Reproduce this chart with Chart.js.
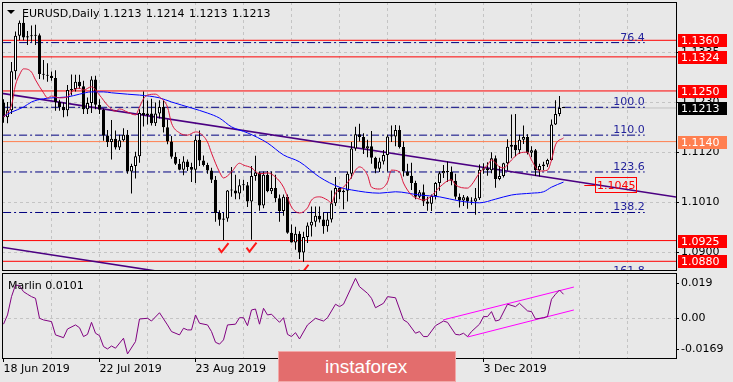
<!DOCTYPE html>
<html><head><meta charset="utf-8">
<script src="https://cdn.jsdelivr.net/npm/chart.js@4.4.1/dist/chart.umd.min.js"></script>
<style>
html,body{margin:0;padding:0;background:#e8e8e8;width:733px;height:382px;overflow:hidden;}
#wrap{position:relative;width:733px;height:382px;}
canvas{position:absolute;left:0;}
#c1{top:0;}
#c2{top:272px;}
#wm{position:absolute;left:278px;top:351px;width:178px;height:31px;background:#e36d6d;border:1px solid #f2a8a8;box-sizing:border-box;color:#fff;font:19px "Liberation Sans",Arial,sans-serif;line-height:19px;}
#wm span{position:absolute;left:46px;top:5px;}
</style></head><body>
<div id="wrap">
<canvas id="c1" width="733" height="272"></canvas>
<canvas id="c2" width="733" height="110"></canvas>
<div id="wm"><span>instaforex</span></div>
</div>
<script>
// ---------- categories (daily bars) ----------
const days = [
'18 Jun','19 Jun','20 Jun','21 Jun','24 Jun','25 Jun','26 Jun','27 Jun','28 Jun',
'1 Jul','2 Jul','3 Jul','4 Jul','5 Jul','8 Jul','9 Jul','10 Jul','11 Jul','12 Jul','15 Jul','16 Jul','17 Jul','18 Jul','19 Jul','22 Jul','23 Jul','24 Jul','25 Jul','26 Jul','29 Jul','30 Jul','31 Jul',
'1 Aug','2 Aug','5 Aug','6 Aug','7 Aug','8 Aug','9 Aug','12 Aug','13 Aug','14 Aug','15 Aug','16 Aug','19 Aug','20 Aug','21 Aug','22 Aug','23 Aug','26 Aug','27 Aug','28 Aug','29 Aug','30 Aug',
'2 Sep','3 Sep','4 Sep','5 Sep','6 Sep','9 Sep','10 Sep','11 Sep','12 Sep','13 Sep','16 Sep','17 Sep','18 Sep','19 Sep','20 Sep','23 Sep','24 Sep','25 Sep','26 Sep','27 Sep','30 Sep',
'1 Oct','2 Oct','3 Oct','4 Oct','7 Oct','8 Oct','9 Oct','10 Oct','11 Oct','14 Oct','15 Oct','16 Oct','17 Oct','18 Oct','21 Oct','22 Oct','23 Oct','24 Oct','25 Oct','28 Oct','29 Oct','30 Oct','31 Oct',
'1 Nov','4 Nov','5 Nov','6 Nov','7 Nov','8 Nov','11 Nov','12 Nov','13 Nov','14 Nov','15 Nov','18 Nov','19 Nov','20 Nov','21 Nov','22 Nov','25 Nov','26 Nov','27 Nov','28 Nov','29 Nov',
'2 Dec','3 Dec','4 Dec','5 Dec','6 Dec','9 Dec','10 Dec','11 Dec','12 Dec','13 Dec','16 Dec','17 Dec','18 Dec','19 Dec','20 Dec','23 Dec','24 Dec','26 Dec','27 Dec','30 Dec','31 Dec',
'1 Jan'];

// ---------- OHLC ----------
const open = [
1.1225,1.1193,1.1208,1.1293,1.1370,1.1398,1.1366,1.1369,1.1370,
1.1371,1.1287,1.1285,1.1283,1.1278,1.1226,1.1215,1.1208,1.1252,1.1254,1.1270,1.1260,1.1210,1.1224,1.1275,1.1220,1.1209,1.1153,1.1139,1.1146,1.1127,1.1143,1.1155,
1.1075,1.1087,1.1108,1.1202,1.1198,1.1201,1.1180,1.1201,1.1215,1.1171,1.1140,1.1107,1.1092,1.1079,1.1097,1.1085,1.1079,1.1144,1.1099,1.1089,1.1077,1.1057,
1.0985,1.0970,1.0973,1.1034,1.1034,1.1027,1.1045,1.1045,1.1010,1.1065,1.1073,1.1001,1.1068,1.1032,1.1039,1.1017,1.0989,1.1020,1.0942,1.0921,1.0940,
1.0899,1.0933,1.0958,1.0966,1.0979,1.0971,1.0956,1.0971,1.1006,1.1039,1.1030,1.1033,1.1070,1.1125,1.1156,1.1150,1.1125,1.1130,1.1105,1.1081,1.1097,1.1111,1.1151,
1.1151,1.1165,1.1128,1.1075,1.1066,1.1050,1.1020,1.1030,1.1010,1.1005,1.1022,1.1050,1.1071,1.1076,1.1074,1.1055,1.1020,1.1012,1.1019,1.1010,1.1010,
1.1017,1.1079,1.1082,1.1078,1.1104,1.1059,1.1065,1.1093,1.1129,1.1133,1.1121,1.1144,1.1150,1.1116,1.1121,1.1078,1.1087,1.1090,1.1100,1.1177,1.1200,
1.1213];
const high = [
1.1232,1.1226,1.1313,1.1379,1.1403,1.1412,1.1380,1.1392,1.1394,
1.1375,1.1317,1.1310,1.1292,1.1295,1.1231,1.1225,1.1263,1.1286,1.1285,1.1285,1.1272,1.1236,1.1282,1.1283,1.1232,1.1212,1.1165,1.1187,1.1164,1.1155,1.1169,1.1165,
1.1092,1.1118,1.1210,1.1249,1.1229,1.1233,1.1225,1.1230,1.1229,1.1188,1.1152,1.1117,1.1102,1.1108,1.1101,1.1094,1.1153,1.1164,1.1110,1.1094,1.1083,1.1065,
1.0991,1.0985,1.1035,1.1085,1.1068,1.1058,1.1057,1.1052,1.1087,1.1109,1.1075,1.1075,1.1076,1.1075,1.1068,1.1025,1.1025,1.1025,1.0960,1.0955,1.0945,
1.0944,1.0964,1.0999,1.0999,1.0999,1.0986,1.0986,1.1034,1.1063,1.1041,1.1036,1.1075,1.1139,1.1172,1.1179,1.1158,1.1144,1.1163,1.1107,1.1105,1.1122,1.1155,1.1175,
1.1176,1.1175,1.1140,1.1092,1.1094,1.1055,1.1035,1.1047,1.1020,1.1025,1.1052,1.1075,1.1089,1.1097,1.1086,1.1070,1.1027,1.1024,1.1022,1.1019,1.1039,
1.1090,1.1093,1.1095,1.1117,1.1110,1.1087,1.1094,1.1145,1.1199,1.1200,1.1155,1.1175,1.1156,1.1130,1.1124,1.1092,1.1096,1.1103,1.1188,1.1230,1.1239,
1.1214];
const low = [
1.1181,1.1180,1.1200,1.1275,1.1360,1.1360,1.1350,1.1357,1.1350,
1.1276,1.1275,1.1270,1.1272,1.1207,1.1207,1.1193,1.1195,1.1240,1.1249,1.1255,1.1200,1.1200,1.1202,1.1210,1.1200,1.1142,1.1128,1.1101,1.1123,1.1122,1.1140,1.1070,
1.1027,1.1060,1.1094,1.1173,1.1177,1.1175,1.1174,1.1190,1.1160,1.1134,1.1103,1.1089,1.1078,1.1067,1.1076,1.1052,1.1050,1.1087,1.1086,1.1070,1.1050,1.0966,
1.0957,1.0926,1.0966,1.1020,1.1015,1.1015,1.1034,1.0998,1.0927,1.1055,1.0990,1.0995,1.1030,1.1026,1.1008,1.0966,1.0979,1.0940,1.0921,1.0905,1.0885,
1.0879,1.0920,1.0934,1.0955,1.0964,1.0940,1.0944,1.0964,1.1000,1.1015,1.0993,1.1010,1.1060,1.1120,1.1140,1.1113,1.1106,1.1092,1.1071,1.1074,1.1090,1.1075,1.1139,
1.1130,1.1125,1.1064,1.1065,1.1035,1.1015,1.1017,1.1000,1.0990,1.0989,1.1014,1.1033,1.1061,1.1052,1.1045,1.1014,1.0997,1.1000,1.0994,1.1003,1.0981,
1.1013,1.1070,1.1066,1.1071,1.1040,1.1056,1.1062,1.1077,1.1104,1.1108,1.1113,1.1135,1.1112,1.1106,1.1065,1.1064,1.1078,1.1085,1.1098,1.1176,1.1195,
1.1213];
const close = [
1.1193,1.1208,1.1293,1.1370,1.1398,1.1366,1.1369,1.1370,1.1371,
1.1287,1.1285,1.1283,1.1278,1.1226,1.1215,1.1208,1.1252,1.1254,1.1270,1.1260,1.1210,1.1224,1.1275,1.1220,1.1209,1.1153,1.1139,1.1146,1.1127,1.1143,1.1155,1.1075,
1.1087,1.1108,1.1202,1.1198,1.1201,1.1180,1.1201,1.1215,1.1171,1.1140,1.1107,1.1092,1.1079,1.1097,1.1085,1.1079,1.1144,1.1099,1.1089,1.1077,1.1057,1.0985,
1.0970,1.0973,1.1034,1.1034,1.1027,1.1045,1.1045,1.1010,1.1065,1.1073,1.1001,1.1068,1.1032,1.1039,1.1017,1.0989,1.1020,1.0942,1.0921,1.0940,1.0899,
1.0933,1.0958,1.0966,1.0979,1.0971,1.0956,1.0971,1.1006,1.1039,1.1030,1.1033,1.1070,1.1125,1.1156,1.1150,1.1125,1.1130,1.1105,1.1081,1.1097,1.1111,1.1151,1.1151,
1.1165,1.1128,1.1075,1.1066,1.1050,1.1020,1.1030,1.1010,1.1005,1.1022,1.1050,1.1071,1.1076,1.1074,1.1055,1.1020,1.1012,1.1019,1.1010,1.1010,1.1017,
1.1079,1.1082,1.1078,1.1104,1.1059,1.1065,1.1093,1.1129,1.1133,1.1121,1.1144,1.1150,1.1116,1.1121,1.1078,1.1087,1.1090,1.1100,1.1177,1.1200,1.1213,
1.1213];

// ---------- moving averages (read at sample bars) ----------
const redIdx = [0,2,3,4,5,7,8,10,11,12,14,16,17,19,20,22,24,26,28,29,31,33,34,35,36,38,39,41,42,44,46,48,49,51,52,54,55,57,59,60,62,64,66,68,70,72,74,76,77,79,81,82,83,85,87,88,89,91,92,94,96,97,99,100,102,104,105,107,109,112,113,116,117,119,121,122,124,125,127,129,131,132,134,136,137,138,140];
const redVal = [1.1193,1.1219,1.1263,1.1285,1.1298,1.1291,1.1274,1.1246,1.1235,1.1239,1.1235,1.1237,1.1248,1.1256,1.1252,1.1259,1.1241,1.1219,1.1206,1.1211,1.1204,1.1198,1.1215,1.1233,1.1241,1.1243,1.1237,1.1215,1.1180,1.1159,1.1154,1.1161,1.1159,1.1139,1.1115,1.1074,1.1061,1.1074,1.1093,1.1089,1.1083,1.1070,1.1072,1.1063,1.1041,1.0998,1.0985,1.0996,1.1013,1.1020,1.1013,1.1007,1.1028,1.1041,1.1063,1.1078,1.1085,1.1067,1.1041,1.1037,1.1052,1.1078,1.1074,1.1050,1.1024,1.1015,1.1013,1.1022,1.1041,1.1057,1.1046,1.1039,1.1046,1.1072,1.1089,1.1100,1.1085,1.1083,1.1100,1.1115,1.1117,1.1100,1.1076,1.1078,1.1100,1.1133,1.1148];
const blueIdx = [0,2,5,7,10,12,16,19,22,25,27,31,34,39,42,47,51,54,57,61,66,70,74,79,84,87,94,98,104,109,114,119,123,127,132,135,137,140];
const blueVal = [1.1195,1.1204,1.1215,1.1226,1.1233,1.1235,1.1237,1.1243,1.1248,1.1248,1.1246,1.1243,1.1241,1.1235,1.1226,1.1213,1.1202,1.1191,1.1172,1.1159,1.1137,1.1111,1.1096,1.1063,1.1041,1.1035,1.1028,1.1031,1.1024,1.1020,1.1011,1.1007,1.1015,1.1024,1.1028,1.1031,1.1041,1.1052];

// ---------- levels ----------
const levelPrices = [1.1360, 1.1324, 1.1250, 1.0925, 1.0880];
const supportPrice = 1.1140;
const bidPrice = 1.1213;
const fibNames = ['76.4','100.0','110.0','123.6','138.2','161.8'];
const fibPrices = [1.1355, 1.12145, 1.1154, 1.1074, 1.0986, 1.0847];
const trendIdx = [-0.875, 168.125];
const trendUpperVal = [1.12455, 1.10197];
const trendLowerVal = [1.09111, 1.06853];
const tagPrice = 1.1045;
const checkIdx = [55, 62, 75];
const boxPrices = [1.1360, 1.1324, 1.1250, 1.1213, 1.1140, 1.0925, 1.0880];
const boxKinds  = ['r','r','r','k','o','r','r'];
const yTickVals = [1.0900, 1.10086, 1.11172, 1.12258, 1.13344];
const yTickLabels = ['1.0900','1.1010','1.1120','1.1230','1.1335'];
const titleVals = ['1.1213','1.1214','1.1213','1.1213'];

// ---------- oscillator (Marlin) ----------
const oscIdx = [0,1,2,3,4,5,6,7,8,9,10,12,13,15,16,18,19,20,21,22,23,24,25,26,27,28,30,31,33,34,36,37,39,41,42,44,45,46,47,48,49,51,52,53,54,55,56,58,59,60,61,62,63,64,65,66,67,69,70,71,72,73,74,76,78,80,81,83,84,85,88,89,91,92,93,95,96,98,100,101,103,104,105,106,108,110,111,113,114,115,116,117,119,120,121,122,123,124,126,128,129,131,132,133,135,136,137,138,139,140];
const oscVal = [-0.0032,0.0018,0.0117,0.0180,0.0176,0.0144,0.0130,0.0117,0.0108,0.0000,-0.0009,-0.0018,-0.0090,-0.0105,-0.0058,-0.0036,-0.0051,-0.0099,-0.0087,-0.0022,-0.0081,-0.0094,-0.0153,-0.0166,-0.0150,-0.0162,-0.0108,-0.0193,-0.0126,-0.0004,0.0000,-0.0015,0.0030,-0.0036,-0.0072,-0.0090,-0.0054,-0.0063,-0.0063,0.0018,-0.0027,-0.0036,-0.0072,-0.0130,-0.0140,-0.0117,-0.0036,-0.0032,0.0003,0.0003,-0.0040,0.0045,0.0050,-0.0032,0.0054,0.0018,0.0022,-0.0022,0.0003,-0.0087,-0.0099,-0.0078,-0.0112,-0.0036,0.0000,-0.0015,0.0003,0.0076,0.0063,0.0076,0.0216,0.0171,0.0135,0.0108,0.0057,0.0081,0.0117,0.0111,-0.0009,-0.0022,-0.0081,-0.0072,-0.0099,-0.0099,-0.0040,-0.0015,-0.0022,-0.0087,-0.0090,-0.0081,-0.0099,-0.0072,-0.0032,0.0009,0.0009,0.0036,-0.0015,-0.0009,0.0076,0.0063,0.0081,0.0040,0.0036,-0.0004,0.0003,0.0009,0.0103,0.0130,0.0153,0.0130];
const chanUpperIdx = [109.9, 142.6], chanUpperVal = [-0.0009, 0.0169];
const chanLowerIdx = [116.1, 142.6], chanLowerVal = [-0.0101, 0.0045];
const oscTickVals = [-0.0169, 0, 0.019];
const oscTickLabels = ['-0.0169','0.00','0.019'];

// ---------- x axis ticks ----------
const gridIdx = [12,24,36,48,60,72,84,96,108,120,132,144,156];
const dateTickIdx = [0,24,48,72,96,120];
const dateTickLabels = ['18 Jun 2019','22 Jul 2019','23 Aug 2019','26 Sep 2019','30 Oct 2019','3 Dec 2019'];

const X_MIN = -0.375, X_MAX = 168.125;
const FIB_X0 = -0.1, FIB_X1 = 160.3;
const TAG_IDX = 147.9, TAG_LINE_IDX = 145.2;
const FONT = '"DejaVu Sans"';
const GRID = '#c4c4c4';

const pts = (xs, ys) => xs.map((v, k) => ({x: v, y: ys[k]}));
const hLine = (p, color, dash, order, x0, x1) => ({
  type: 'line', data: [{x: x0 ?? X_MIN - 1, y: p}, {x: x1 ?? X_MAX + 1, y: p}],
  borderColor: color, borderWidth: 1, borderDash: dash || [], pointRadius: 0, order
});
const noPad = s => { s.paddingTop = 0; s.paddingBottom = 0; s.paddingLeft = 0; s.paddingRight = 0; };

const boxBg = {r: '#ff0000', k: '#000000', o: '#ff7f50'};

const mainDecor = {
  id: 'mainDecor',
  afterDatasetsDraw(chart) {
    const {ctx, chartArea: a, scales: {x, y}} = chart;
    ctx.save();
    ctx.beginPath(); ctx.rect(a.left, a.top, a.right - a.left, a.bottom - a.top); ctx.clip();
    ctx.font = '11px ' + FONT;
    // fib labels
    ctx.fillStyle = '#23239b'; ctx.textAlign = 'right'; ctx.textBaseline = 'alphabetic';
    fibNames.forEach((n, k) => ctx.fillText(n, x.getPixelForValue(FIB_X1), y.getPixelForValue(fibPrices[k]) - 2));
    // check marks under the lows
    ctx.strokeStyle = '#ff1a1a'; ctx.lineWidth = 2;
    checkIdx.forEach(i => {
      const cx = x.getPixelForValue(i), cy = y.getPixelForValue(low[i]) + 8;
      ctx.beginPath(); ctx.moveTo(cx - 5, cy); ctx.lineTo(cx - 2, cy + 4); ctx.lineTo(cx + 5, cy - 5); ctx.stroke();
    });
    // trendline value tag
    const tx = Math.round(x.getPixelForValue(TAG_IDX)), ty = Math.round(y.getPixelForValue(tagPrice));
    ctx.strokeStyle = '#ff0000'; ctx.lineWidth = 1;
    ctx.beginPath(); ctx.moveTo(x.getPixelForValue(TAG_LINE_IDX), ty + 0.5); ctx.lineTo(tx, ty + 0.5); ctx.stroke();
    ctx.textAlign = 'left';
    const lbl = tagPrice.toFixed(4);
    const w = Math.round(ctx.measureText(lbl).width) + 3;
    ctx.strokeRect(tx + 0.5, ty - 7.5, w, 15);
    ctx.fillStyle = '#ff0000'; ctx.textBaseline = 'middle';
    ctx.fillText(lbl, tx + 2, ty + 1);
    // title
    ctx.fillStyle = '#000';
    ctx.beginPath(); ctx.moveTo(7, 10); ctx.lineTo(15, 10); ctx.lineTo(11, 14); ctx.closePath(); ctx.fill();
    ctx.textBaseline = 'alphabetic';
    ctx.fillText('EURUSD,Daily', 22, 17);
    titleVals.forEach((t, k) => ctx.fillText(t, 103 + 43 * k, 17));
    ctx.restore();
  },
  afterDraw(chart) {
    const {ctx, chartArea: a, scales: {y}} = chart;
    ctx.save();
    ctx.strokeStyle = '#000'; ctx.lineWidth = 1;
    ctx.strokeRect(a.left + 0.5, a.top + 0.5, a.right - a.left, a.bottom - a.top);
    ctx.font = '11px ' + FONT; ctx.textAlign = 'left'; ctx.textBaseline = 'middle';
    boxPrices.forEach((p, k) => {
      const py = Math.round(y.getPixelForValue(p));
      ctx.fillStyle = boxBg[boxKinds[k]];
      ctx.fillRect(a.right + 2, py - 6, 49, 13);
      ctx.fillStyle = '#fff';
      ctx.fillText(p.toFixed(4), a.right + 5, py + 1);
    });
    ctx.restore();
  }
};

const bodyColors = open.map((o, i) => close[i] >= o ? '#ffffff' : '#000000');

new Chart(document.getElementById('c1'), {
  type: 'bar',
  data: {
    labels: days,
    datasets: [
      ...levelPrices.map(p => hLine(p, '#ff0000', null, 7)),
      hLine(supportPrice, '#ff7f50', null, 7),
      hLine(bidPrice, '#c0c0c0', null, 8),
      ...fibPrices.map(p => hLine(p, '#000080', [8, 3, 2, 3], 6, FIB_X0, FIB_X1)),
      {type: 'line', data: pts(trendIdx, trendUpperVal), borderColor: '#4b0082', borderWidth: 1.6, pointRadius: 0, order: 5},
      {type: 'line', data: pts(trendIdx, trendLowerVal), borderColor: '#4b0082', borderWidth: 1.6, pointRadius: 0, order: 5},
      {type: 'bar', data: days.map((d, i) => ({x: i, y: [low[i], high[i]]})), backgroundColor: '#000', borderWidth: 0,
       barThickness: 1, grouped: false, inflateAmount: 0, order: 4},
      {type: 'bar', data: days.map((d, i) => ({x: i, y: [open[i], close[i]]})), backgroundColor: bodyColors, borderColor: '#000',
       borderWidth: 1, borderSkipped: false, barThickness: 3, grouped: false, minBarLength: 1, inflateAmount: 0, order: 3},
      {type: 'line', data: pts(blueIdx, blueVal), borderColor: '#0000ff', borderWidth: 1, pointRadius: 0, cubicInterpolationMode: 'monotone', order: 2},
      {type: 'line', data: pts(redIdx, redVal), borderColor: '#dc143c', borderWidth: 1, pointRadius: 0, cubicInterpolationMode: 'monotone', order: 1}
    ]
  },
  options: {
    responsive: false, animation: false, devicePixelRatio: 1, events: [],
    layout: {padding: {left: 2, top: 2, right: 0, bottom: 2}},
    plugins: {legend: {display: false}, tooltip: {enabled: false}},
    scales: {
      x: {
        type: 'linear', min: X_MIN, max: X_MAX, offset: false,
        afterBuildTicks: s => { s.ticks = gridIdx.map(v => ({value: v})); },
        afterFit: s => { s.height = 0; noPad(s); },
        ticks: {display: false},
        grid: {color: GRID, drawTicks: false, offset: false},
        border: {display: false, dash: [3, 3]}
      },
      y: {
        position: 'right', min: 1.08611, max: 1.14432,
        afterBuildTicks: s => { s.ticks = yTickVals.map(v => ({value: v})); },
        afterFit: s => { s.width = 57; noPad(s); },
        ticks: {callback: (v, i) => yTickLabels[i], font: {family: 'DejaVu Sans', size: 11}, color: '#000', padding: 2, autoSkip: false},
        grid: {color: GRID, tickLength: 3, tickColor: '#000', tickBorderDash: []},
        border: {display: false, dash: [3, 3]}
      }
    }
  },
  plugins: [mainDecor]
});

const oscDecor = {
  id: 'oscDecor',
  afterDraw(chart) {
    const {ctx, chartArea: a} = chart;
    ctx.save();
    ctx.strokeStyle = '#000'; ctx.lineWidth = 1;
    ctx.strokeRect(a.left + 0.5, a.top + 0.5, a.right - a.left, a.bottom - a.top);
    ctx.font = '11px ' + FONT; ctx.fillStyle = '#000'; ctx.textBaseline = 'alphabetic'; ctx.textAlign = 'left';
    ctx.fillText('Marlin 0.0101', a.left + 6, a.top + 16);
    ctx.restore();
  }
};

new Chart(document.getElementById('c2'), {
  type: 'line',
  data: {
    datasets: [
      {data: pts(chanUpperIdx, chanUpperVal), borderColor: '#ff00ff', borderWidth: 1, pointRadius: 0, order: 2},
      {data: pts(chanLowerIdx, chanLowerVal), borderColor: '#ff00ff', borderWidth: 1, pointRadius: 0, order: 2},
      {data: pts(oscIdx, oscVal), borderColor: '#800080', borderWidth: 1, pointRadius: 0, tension: 0, order: 1}
    ]
  },
  options: {
    responsive: false, animation: false, devicePixelRatio: 1, events: [],
    layout: {padding: {left: 2, top: 1, right: 0, bottom: 0}},
    plugins: {legend: {display: false}, tooltip: {enabled: false}},
    scales: {
      x: {
        type: 'linear', min: X_MIN, max: X_MAX, offset: false,
        afterBuildTicks: s => { s.ticks = [0, ...gridIdx].map(v => ({value: v})); },
        afterFit: s => { s.height = 24; noPad(s); },
        ticks: {
          callback: v => { const k = dateTickIdx.indexOf(v); return k >= 0 ? dateTickLabels[k] : ''; },
          align: 'start', autoSkip: false, maxRotation: 0, minRotation: 0, padding: 1,
          font: {family: 'DejaVu Sans', size: 11}, color: '#000'
        },
        grid: {
          color: c => (c.tick && c.tick.value === 0) ? 'rgba(0,0,0,0)' : GRID,
          tickLength: 4, tickBorderDash: [],
          tickColor: c => (c.tick && dateTickIdx.includes(c.tick.value)) ? '#000' : 'rgba(0,0,0,0)'
        },
        border: {display: false, dash: [3, 3]}
      },
      y: {
        position: 'right', min: -0.0215, max: 0.0245,
        afterBuildTicks: s => { s.ticks = oscTickVals.map(v => ({value: v})); },
        afterFit: s => { s.width = 57; noPad(s); },
        ticks: {callback: (v, i) => oscTickLabels[i], font: {family: 'DejaVu Sans', size: 11}, color: '#000', padding: 2, autoSkip: false},
        grid: {color: c => (c.tick && c.tick.value === 0) ? GRID : 'rgba(0,0,0,0)', tickLength: 3, tickColor: '#000', tickBorderDash: []},
        border: {display: false, dash: [3, 3]}
      }
    }
  },
  plugins: [oscDecor]
});
</script>
</body></html>
